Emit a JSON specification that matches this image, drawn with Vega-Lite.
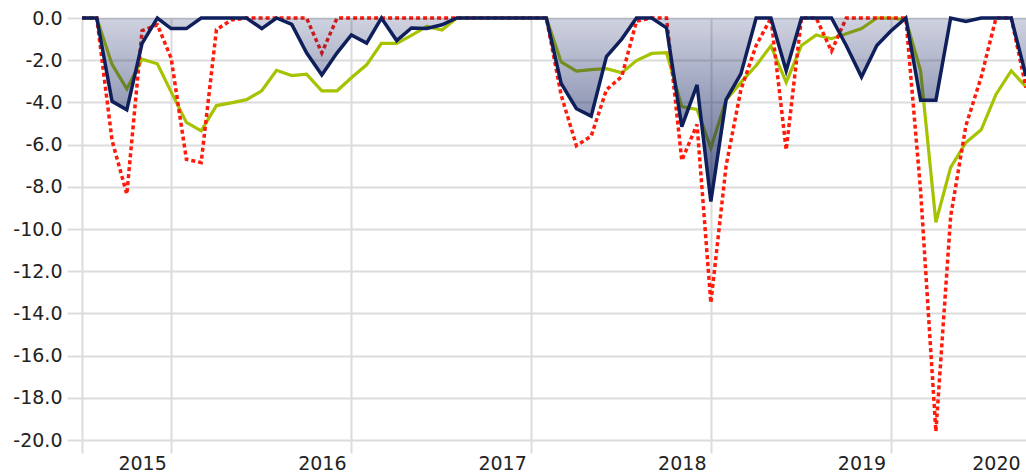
{
  "$schema": "https://vega.github.io/schema/vega-lite/v6.json",
  "width": 944,
  "height": 422,
  "autosize": {"type": "none"},
  "padding": {"left": 82, "top": 18, "right": 0, "bottom": 32},
  "background": "white",
  "config": {
    "view": {"stroke": null},
    "axis": {"labelFont": "DejaVu Sans", "labelFontSize": 19, "labelColor": "#222222", "domain": false}
  },
  "data": {"values": [
    {"date": "2014-09-01", "fund": 0, "index": 0, "peer": 0},
    {"date": "2014-10-01", "fund": 0, "index": 0, "peer": 0},
    {"date": "2014-11-01", "fund": -3.95, "index": -2.2, "peer": -5.8},
    {"date": "2014-12-01", "fund": -4.35, "index": -3.36, "peer": -8.35},
    {"date": "2015-01-01", "fund": -1.2, "index": -1.95, "peer": -0.6},
    {"date": "2015-02-01", "fund": 0, "index": -2.17, "peer": -0.32},
    {"date": "2015-03-01", "fund": -0.5, "index": -3.5, "peer": -1.9},
    {"date": "2015-04-01", "fund": -0.5, "index": -4.95, "peer": -6.7},
    {"date": "2015-05-01", "fund": 0, "index": -5.35, "peer": -6.85},
    {"date": "2015-06-01", "fund": 0, "index": -4.15, "peer": -0.55},
    {"date": "2015-07-01", "fund": 0, "index": -4.02, "peer": -0.1},
    {"date": "2015-08-01", "fund": 0, "index": -3.87, "peer": 0},
    {"date": "2015-09-01", "fund": -0.5, "index": -3.45, "peer": 0},
    {"date": "2015-10-01", "fund": 0, "index": -2.48, "peer": 0},
    {"date": "2015-11-01", "fund": -0.3, "index": -2.73, "peer": 0},
    {"date": "2015-12-01", "fund": -1.65, "index": -2.66, "peer": 0},
    {"date": "2016-01-01", "fund": -2.7, "index": -3.45, "peer": -1.65},
    {"date": "2016-02-01", "fund": -1.65, "index": -3.45, "peer": 0},
    {"date": "2016-03-01", "fund": -0.8, "index": -2.83, "peer": 0},
    {"date": "2016-04-01", "fund": -1.19, "index": -2.22, "peer": 0},
    {"date": "2016-05-01", "fund": 0, "index": -1.2, "peer": 0},
    {"date": "2016-06-01", "fund": -1.07, "index": -1.2, "peer": 0},
    {"date": "2016-07-01", "fund": -0.47, "index": -0.82, "peer": 0},
    {"date": "2016-08-01", "fund": -0.5, "index": -0.4, "peer": 0},
    {"date": "2016-09-01", "fund": -0.32, "index": -0.57, "peer": 0},
    {"date": "2016-10-01", "fund": 0, "index": 0, "peer": 0},
    {"date": "2016-11-01", "fund": 0, "index": 0, "peer": 0},
    {"date": "2016-12-01", "fund": 0, "index": 0, "peer": 0},
    {"date": "2017-01-01", "fund": 0, "index": 0, "peer": 0},
    {"date": "2017-02-01", "fund": 0, "index": 0, "peer": 0},
    {"date": "2017-03-01", "fund": 0, "index": 0, "peer": 0},
    {"date": "2017-04-01", "fund": 0, "index": 0, "peer": 0},
    {"date": "2017-05-01", "fund": -3.1, "index": -2.08, "peer": -3.65},
    {"date": "2017-06-01", "fund": -4.3, "index": -2.52, "peer": -6.05},
    {"date": "2017-07-01", "fund": -4.65, "index": -2.45, "peer": -5.6},
    {"date": "2017-08-01", "fund": -1.83, "index": -2.4, "peer": -3.4},
    {"date": "2017-09-01", "fund": -1.0, "index": -2.6, "peer": -2.78},
    {"date": "2017-10-01", "fund": 0, "index": -2.02, "peer": -0.15},
    {"date": "2017-11-01", "fund": 0, "index": -1.68, "peer": 0},
    {"date": "2017-12-01", "fund": -0.47, "index": -1.64, "peer": 0},
    {"date": "2018-01-01", "fund": -5.15, "index": -4.2, "peer": -6.75},
    {"date": "2018-02-01", "fund": -3.17, "index": -4.33, "peer": -5.05},
    {"date": "2018-03-01", "fund": -8.7, "index": -6.16, "peer": -13.5},
    {"date": "2018-04-01", "fund": -3.87, "index": -3.88, "peer": -7.0},
    {"date": "2018-05-01", "fund": -2.65, "index": -3.05, "peer": -3.4},
    {"date": "2018-06-01", "fund": 0, "index": -2.25, "peer": -1.3},
    {"date": "2018-07-01", "fund": 0, "index": -1.32, "peer": 0},
    {"date": "2018-08-01", "fund": -2.5, "index": -3.05, "peer": -6.25},
    {"date": "2018-09-01", "fund": 0, "index": -1.3, "peer": 0},
    {"date": "2018-10-01", "fund": 0, "index": -0.8, "peer": 0},
    {"date": "2018-11-01", "fund": 0, "index": -0.98, "peer": -1.57},
    {"date": "2018-12-01", "fund": -1.3, "index": -0.75, "peer": 0},
    {"date": "2019-01-01", "fund": -2.8, "index": -0.5, "peer": 0},
    {"date": "2019-02-01", "fund": -1.3, "index": 0, "peer": 0},
    {"date": "2019-03-01", "fund": -0.63, "index": 0, "peer": 0},
    {"date": "2019-04-01", "fund": 0, "index": -0.08, "peer": 0},
    {"date": "2019-05-01", "fund": -3.9, "index": -2.5, "peer": -8.2},
    {"date": "2019-06-01", "fund": -3.9, "index": -9.68, "peer": -19.6},
    {"date": "2019-07-01", "fund": 0, "index": -7.08, "peer": -9.4},
    {"date": "2019-08-01", "fund": -0.16, "index": -5.9, "peer": -5.1},
    {"date": "2019-09-01", "fund": 0, "index": -5.3, "peer": -2.8},
    {"date": "2019-10-01", "fund": 0, "index": -3.62, "peer": 0},
    {"date": "2019-11-01", "fund": 0, "index": -2.5, "peer": 0},
    {"date": "2019-12-01", "fund": -2.75, "index": -3.27, "peer": -3.3}
  ]},
  "layer": [
    {
      "mark": {"type": "line", "color": "#a6c200", "strokeWidth": 3.2},
      "encoding": {
        "x": {"field": "date", "type": "temporal", "scale": {"nice": false},
          "axis": {"orient": "bottom", "values": [
            {"year": 2014, "month": 9, "date": 1, "utc": true},
            {"year": 2015, "month": 3, "date": 1, "utc": true},
            {"year": 2016, "month": 3, "date": 1, "utc": true},
            {"year": 2017, "month": 3, "date": 1, "utc": true},
            {"year": 2018, "month": 3, "date": 1, "utc": true},
            {"year": 2019, "month": 3, "date": 1, "utc": true}],
            "labels": false, "title": null, "grid": true, "gridColor": "#dcdcdc", "gridWidth": 2,
            "ticks": true, "tickSize": 13, "tickColor": "#dcdcdc", "tickWidth": 2}},
        "y": {"field": "index", "type": "quantitative", "scale": {"domain": [-20, 0], "nice": false},
          "axis": {"values": [0, -2, -4, -6, -8, -10, -12, -14, -16, -18, -20],
            "labelExpr": "(datum.value < 0 ? '-' : '') + format(abs(datum.value), '.1f')", "title": null,
            "grid": true, "gridColor": "#dcdcdc", "gridWidth": 2, "tickSize": 15, "tickColor": "#dcdcdc", "tickWidth": 2,
            "labelPadding": 5}}
      }
    },
    {
      "mark": {"type": "line", "color": "#ff1a0a", "strokeWidth": 3.5, "strokeDash": [4, 3]},
      "encoding": {
        "x": {"field": "date", "type": "temporal",
          "axis": {"orient": "bottom", "values": [
            {"year": 2015, "month": 1, "date": 1, "utc": true},
            {"year": 2016, "month": 1, "date": 1, "utc": true},
            {"year": 2017, "month": 1, "date": 1, "utc": true},
            {"year": 2018, "month": 1, "date": 1, "utc": true},
            {"year": 2019, "month": 1, "date": 1, "utc": true},
            {"year": 2019, "month": 11, "date": 19, "utc": true}],
            "labelExpr": "datum.value > 1570000000000 ? '2020' : utcFormat(datum.value, '%Y')",
            "labelAlign": {"condition": {"test": "datum.value > 1570000000000", "value": "right"}, "value": "center"},
            "labelFlush": false, "labelOverlap": false, "labelBound": false,
            "grid": false, "ticks": false, "labelPadding": 14, "title": null}},
        "y": {"field": "peer", "type": "quantitative"}
      }
    },
    {
      "mark": {"type": "area", "color": {"gradient": "linear", "x1": 0, "y1": 0, "x2": 0, "y2": 1,
        "stops": [{"offset": 0, "color": "rgba(16,32,96,0.2)"}, {"offset": 1, "color": "rgba(16,32,96,0.72)"}]}},
      "encoding": {
        "x": {"field": "date", "type": "temporal", "axis": null},
        "y": {"field": "fund", "type": "quantitative"}
      }
    },
    {
      "mark": {"type": "line", "color": "#0e1f5b", "strokeWidth": 3.5},
      "encoding": {
        "x": {"field": "date", "type": "temporal", "axis": null},
        "y": {"field": "fund", "type": "quantitative"}
      }
    }
  ],
  "resolve": {"axis": {"x": "independent"}}
}
